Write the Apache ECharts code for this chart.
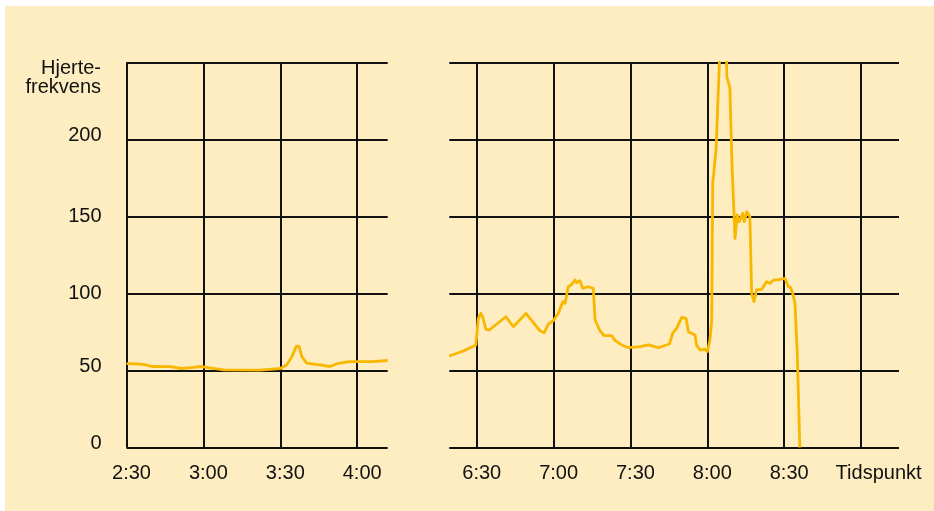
<!DOCTYPE html>
<html>
<head>
<meta charset="utf-8">
<script src="https://cdn.jsdelivr.net/npm/echarts@6/dist/echarts.min.js"></script>
<style>
html,body{margin:0;padding:0;background:#ffffff;}
#bg{position:absolute;left:5px;top:6px;width:929px;height:505px;background:#fdedc1;}
#chart{position:absolute;left:0;top:0;width:934px;height:511px;}
</style>
</head>
<body>
<div id="bg"></div>
<div id="chart"></div>
<script>
// Time in minutes after midnight, heart rate in beats per minute
const timeLeft = [150, 154, 157, 160, 167, 171.5, 176, 179, 183, 188, 202, 210, 212.5, 214.5, 216.3, 217.3, 218.4, 220.3, 225.5, 229.4, 232.6, 237, 246, 251.9];
const hrLeft   = [54.5, 54.3, 53.8, 52.6, 52.5, 51.3, 52, 52.6, 51.5, 50.4, 50.3, 51.3, 53.5, 59, 65.8, 65.6, 59, 54.8, 53.6, 52.6, 54.7, 55.8, 55.8, 56.5];

const timeRight = [379.3, 384.8, 389.7, 390.6, 391.6, 392.3, 393.6, 394.9, 401.4, 404.3, 409.2, 414.7, 416.3, 418, 419.9, 421.8, 423.6, 424.5, 425.7, 426.8, 428.4, 429, 430.3, 431.4, 433.5, 435.5, 436.2, 438.1, 439.7, 442.7, 444, 446.6, 449.2, 453.7, 457, 460.9, 465.2, 466.5, 468, 470, 471.7, 472.6, 475.2, 475.8, 477.1, 479.1, 480, 481, 481.7, 482.1, 483.4, 484.7, 485.9, 487.5, 487.6, 488.8, 489.2, 489.7, 490.4, 490.8, 491.7, 492.5, 493.8, 494.4, 495.4, 496, 496.6, 497.3, 498.2, 499.2, 501.2, 503.1, 504.4, 506, 507.7, 510.3, 511, 511.6, 512.5, 513.5, 514.2, 515.1, 516.1];
const hrRight   = [59.4, 62.7, 66.6, 83.9, 87.1, 84.9, 76.7, 76.3, 84.9, 78.4, 87.1, 75.8, 74.5, 80.2, 82.3, 87.1, 94.7, 93.6, 104.4, 105.5, 108.8, 107, 108.3, 103.4, 104.4, 103.4, 82.8, 75.8, 72.6, 72.6, 69.4, 66.6, 64.8, 65.5, 66.6, 64.8, 67.2, 74.2, 77.4, 84.5, 83.9, 75.2, 73.1, 66.6, 63.3, 63.8, 62.2, 69.8, 82, 171.5, 193.2, 249.5, 268, 250.5, 240.8, 233.3, 208.3, 180.2, 152.1, 135.8, 151, 146.6, 152.1, 146.6, 153.1, 153.1, 149.9, 100.1, 94.7, 102.3, 102.7, 107.7, 106.6, 108.8, 108.8, 109.9, 109.6, 104.4, 104, 99, 93.6, 61, 0];

const yLabelValues = [0, 50, 100, 150, 200];
const yAxisTitle = 'Hjerte-\nfrekvens';
const xAxisTitle = 'Tidspunkt';

const FONT = '"Liberation Sans", Arial, Helvetica, sans-serif';
const GRID_COLOR = '#111111';
const LINE_COLOR = '#f9b700';

function fmtTime(v) {
  const h = Math.floor(v / 60);
  const m = Math.round(v - h * 60);
  return h + ':' + (m < 10 ? '0' + m : m);
}

function xLabel(v, isRight) {
  if (Math.abs(v % 30) > 1e-6) return '';
  if (isRight && v === 540) return '{t|' + xAxisTitle + '}';
  return '{a|' + fmtTime(v) + '}';
}

const xRich = {
  a: { padding: [0, 0, 0, 10], fontSize: 20, fontFamily: FONT, color: '#111', lineHeight: 20 },
  t: { padding: [0, 0, 0, 35], fontSize: 20, fontFamily: FONT, color: '#111', lineHeight: 20 }
};

function makeX(gridIndex, min, max, isRight) {
  return {
    type: 'value', gridIndex, min, max,
    minInterval: 30, maxInterval: 30,
    axisLine: { show: false }, axisTick: { show: false },
    axisLabel: {
      margin: 16, showMinLabel: true, showMaxLabel: true,
      formatter: v => xLabel(v, isRight), rich: xRich
    },
    splitLine: {
      show: true, showMinLine: !isRight, showMaxLine: false,
      lineStyle: { color: GRID_COLOR, width: 2 }
    }
  };
}

function makeY(gridIndex, showLabels) {
  return {
    type: 'value', gridIndex, min: 0, max: 250, interval: 50,
    axisLine: { show: false }, axisTick: { show: false },
    axisLabel: {
      show: showLabels, margin: 25,
      formatter: v => {
        if (yLabelValues.indexOf(v) < 0) return '';
        if (v === 100 || v === 150) return '{m|' + v + '}';
        return '{u|' + v + '}';
      },
      rich: {
        m: { fontSize: 20, fontFamily: FONT, color: '#111', lineHeight: 20 },
        u: { fontSize: 20, fontFamily: FONT, color: '#111', lineHeight: 20, padding: [0, 0, 9, 0] }
      }
    },
    splitLine: { show: true, lineStyle: { color: GRID_COLOR, width: 2 } }
  };
}

const chart = echarts.init(document.getElementById('chart'), null, { renderer: 'canvas' });
chart.setOption({
  animation: false,
  backgroundColor: 'transparent',
  textStyle: { fontFamily: FONT },
  grid: [
    { left: 126.5, top: 62.5, width: 261.2, height: 385 },
    { left: 449.3, top: 62.5, width: 449.7, height: 385 }
  ],
  xAxis: [
    makeX(0, 150, 251.9, false),
    makeX(1, 379.3, 554.8, true)
  ],
  yAxis: [
    makeY(0, true),
    makeY(1, false)
  ],
  graphic: [{
    type: 'text', x: 101, y: 58.5,
    style: {
      text: yAxisTitle, fill: '#111', font: '20px ' + FONT,
      align: 'right', verticalAlign: 'top', lineHeight: 19
    }
  }],
  series: [
    {
      type: 'line', xAxisIndex: 0, yAxisIndex: 0,
      data: timeLeft.map((t, i) => [t, hrLeft[i]]),
      showSymbol: false, symbol: 'none', clip: true,
      lineStyle: { color: LINE_COLOR, width: 2.8, join: 'round' }
    },
    {
      type: 'line', xAxisIndex: 1, yAxisIndex: 1,
      data: timeRight.map((t, i) => [t, hrRight[i]]),
      showSymbol: false, symbol: 'none', clip: true,
      lineStyle: { color: LINE_COLOR, width: 2.8, join: 'round' }
    }
  ]
});
</script>
</body>
</html>
